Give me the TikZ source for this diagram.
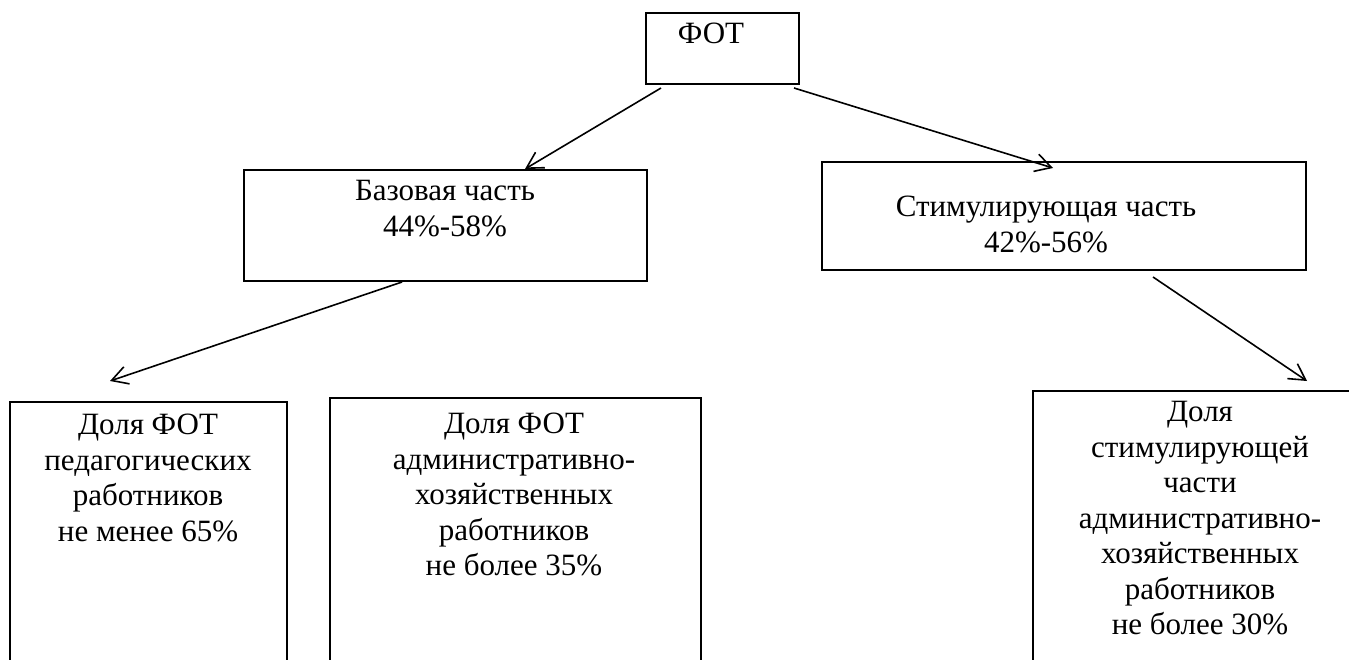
\documentclass[tikz,border=0pt]{standalone}
\usepackage{fontspec}
\setmainfont{Liberation Serif}
\usepackage{tikz}
\usetikzlibrary{calc}
\usetikzlibrary{arrows.meta}

\begin{document}
\begin{tikzpicture}[
        x=0.5pt, y=-0.5pt,
        box/.style = {draw=black, line width=0.9pt, rectangle, inner sep=0pt, outer sep=0pt},
        txt/.style = {inner sep=0pt, align=center, font=\fontsize{15.5}{17.75}\selectfont},
        arr/.style = {-{Straight Barb[length=8pt,width=9pt]}, line width=0.8pt},
    ]
    \useasboundingbox (0,0) rectangle (1349,659);
    \clip (0,0) rectangle (1349,659);
    % boxes
    \node[box, minimum width=76.5pt, minimum height=35.5pt] (fot) at (722.5,48.5) {};
    \node[box, minimum width=201.5pt, minimum height=55.5pt] (base) at (445.5,225.5) {};
    \node[box, minimum width=242pt, minimum height=54pt] (stim) at (1064,216) {};
    \node[box, minimum width=138.5pt, minimum height=159pt] (ped) at (148.5,561) {};
    \node[box, minimum width=185.5pt, minimum height=161pt] (adm) at (515.5,559) {};
    \node[box, minimum width=167pt, minimum height=164.5pt] (stimadm) at (1200,555.5) {};
    % texts
    \node[txt, anchor=base] (fotT) at (711,43) {ФОТ};
    \node[txt, anchor=north] (baseT) at (445,180) {Базовая часть\\44\%-58\%};
    \node[txt, anchor=north] (stimT) at (1046,196) {Стимулирующая часть\\42\%-56\%};
    \node[txt, anchor=north] (pedT) at (148,414) {Доля ФОТ\\педагогических\\работников\\не менее 65\%};
    \node[txt, anchor=north] (admT) at (514,413) {Доля ФОТ\\административно-\\хозяйственных\\работников\\не более 35\%};
    \node[txt, anchor=north] (stimadmT) at (1200,401) {Доля\\стимулирующей\\части\\административно-\\хозяйственных\\работников\\не более 30\%};
    % arrows
    \draw[arr] ($(fot.south west)+(15,4)$) -- ($(base.north west)+(281,-1)$);
    \draw[arr] ($(fot.south east)+(-5,4)$) -- ($(stim.north west)+(231,6)$);
    \draw[arr] ($(base.south west)+(158,1)$) -- ($(ped.north west)+(100,-21)$);
    \draw[arr] ($(stim.south east)+(-153,7)$) -- ($(stimadm.north west)+(274,-10)$);
\end{tikzpicture}
\end{document}
